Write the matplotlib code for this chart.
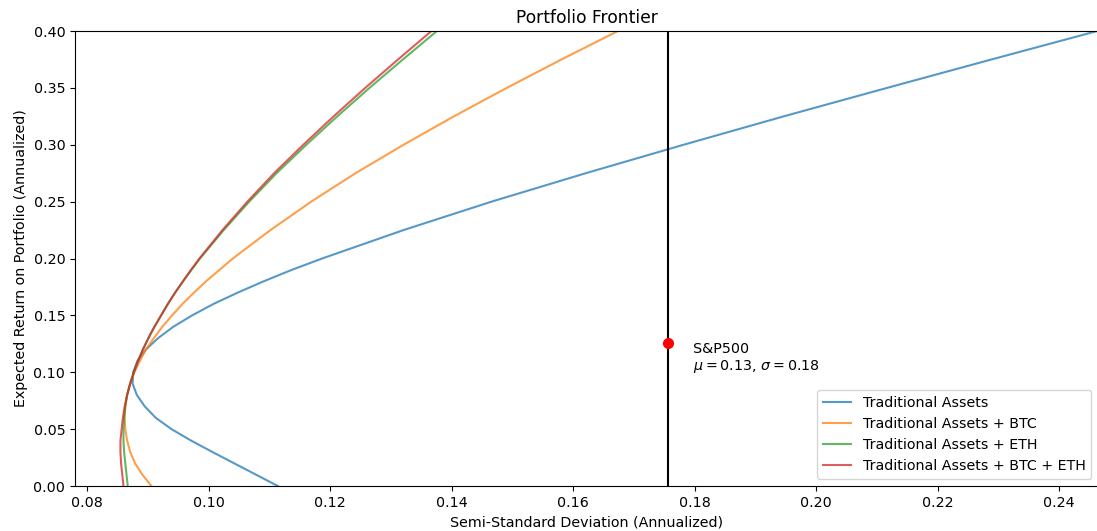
import matplotlib
matplotlib.use("Agg")
import matplotlib.pyplot as plt

plt.rcParams['font.size'] = 10.25

# expected return grid (annualized)
mu = [0.00, 0.01, 0.02, 0.03, 0.04, 0.05, 0.06, 0.07, 0.08, 0.09,
      0.10, 0.11, 0.12, 0.13, 0.14, 0.15, 0.16, 0.17, 0.18, 0.19,
      0.20, 0.225, 0.25, 0.275, 0.30, 0.325, 0.35, 0.375, 0.40]

# semi-standard deviation
sd_trad = [0.1114, 0.1078, 0.1042, 0.1006, 0.0971, 0.0939, 0.0913, 0.0895, 0.0882, 0.0875,
           0.0876, 0.0883, 0.0897, 0.0917, 0.0942, 0.0973, 0.1008, 0.1048, 0.1091, 0.1137,
           0.1187, 0.1321, 0.1466, 0.1621, 0.1782, 0.1947, 0.2117, 0.2289, 0.2463]
sd_btc = [0.0906, 0.0891, 0.0879, 0.0871, 0.0866, 0.0863, 0.0862, 0.0863, 0.0866, 0.0871,
          0.0878, 0.0887, 0.0897, 0.0910, 0.0924, 0.0940, 0.0957, 0.0976, 0.0996, 0.1018,
          0.1040, 0.1102, 0.1169, 0.1242, 0.1321, 0.1404, 0.1491, 0.1581, 0.1674]
sd_eth = [0.0867, 0.0865, 0.0863, 0.0861, 0.0860, 0.0860, 0.0861, 0.0863, 0.0866, 0.0871,
          0.0877, 0.0884, 0.0892, 0.0901, 0.0911, 0.0922, 0.0933, 0.0945, 0.0958, 0.0972,
          0.0986, 0.1025, 0.1067, 0.1112, 0.1161, 0.1212, 0.1265, 0.1320, 0.1376]
sd_btc_eth = [0.0860, 0.0858, 0.0856, 0.0855, 0.0855, 0.0857, 0.0859, 0.0862, 0.0866, 0.0871,
              0.0877, 0.0884, 0.0892, 0.0901, 0.0911, 0.0922, 0.0933, 0.0945, 0.0958, 0.0971,
              0.0985, 0.1023, 0.1064, 0.1108, 0.1156, 0.1206, 0.1258, 0.1312, 0.1367]

labels = ['Traditional Assets', 'Traditional Assets + BTC',
          'Traditional Assets + ETH', 'Traditional Assets + BTC + ETH']

# S&P500 benchmark
sp500_sigma = 0.1756
sp500_mu = 0.1257

fig = plt.figure(figsize=(10.97, 5.31), dpi=100)
ax = fig.add_axes([75 / 1097, 45 / 531, 1023.5 / 1097, 455 / 531])

for sd, lab in zip([sd_trad, sd_btc, sd_eth, sd_btc_eth], labels):
    ax.plot(sd, mu, label=lab, alpha=0.75, lw=1.5)

ax.axvline(sp500_sigma, color='black', lw=1.5)
ax.plot(sp500_sigma, sp500_mu, 'o', color='red', markersize=7)
ax.text(sp500_sigma + 0.0042, 0.0972,
        f"S&P500\n$\\mu = {sp500_mu:.2f}$, $\\sigma = {sp500_sigma:.2f}$",
        va='bottom', ha='left')

ax.set_xlim(0.07802, 0.2465)
ax.set_ylim(0, 0.40)
ax.set_xticks([0.08, 0.10, 0.12, 0.14, 0.16, 0.18, 0.20, 0.22, 0.24])
ax.set_yticks([0.00, 0.05, 0.10, 0.15, 0.20, 0.25, 0.30, 0.35, 0.40])
ax.set_xlabel('Semi-Standard Deviation (Annualized)')
ax.set_ylabel('Expected Return on Portfolio (Annualized)')
ax.set_title('Portfolio Frontier')
ax.legend(loc='lower right')

fig.savefig('out.png', dpi=100)
